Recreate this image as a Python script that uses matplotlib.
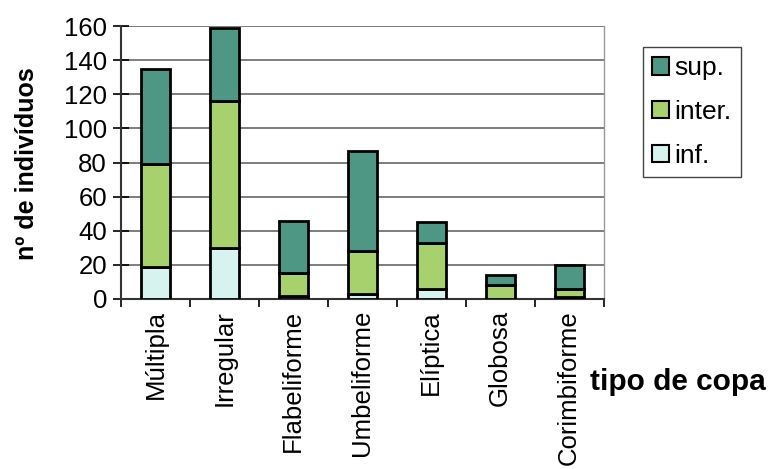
import matplotlib
matplotlib.use("Agg")
import matplotlib.pyplot as plt
from matplotlib.patches import Patch
import numpy as np

plt.rcParams['font.family'] = ['Liberation Sans', 'DejaVu Sans']

categories = ["Múltipla", "Irregular", "Flabeliforme", "Umbeliforme",
              "Elíptica", "Globosa", "Corimbiforme"]
inf_vals = [19, 30, 2, 3, 6, 0, 1]
inter_vals = [60, 86, 13, 25, 27, 8, 5]
sup_vals = [56, 43, 31, 59, 12, 6, 14]
series_names = ["sup.", "inter.", "inf."]
yticks = [0, 20, 40, 60, 80, 100, 120, 140, 160]

col_sup = "#4d9784"
col_inter = "#a6d16c"
col_inf = "#d6f3ef"

fig = plt.figure(figsize=(7.7, 4.69), dpi=100)
ax = fig.add_axes([0.157, 0.3625, 0.627, 0.582])

x = np.arange(len(categories))
w = 0.42
inf_a = np.array(inf_vals)
inter_a = np.array(inter_vals)
sup_a = np.array(sup_vals)
kw = dict(width=w, edgecolor="black", linewidth=2.0, zorder=3)
ax.bar(x, inf_a, color=col_inf, **kw)
ax.bar(x, inter_a, bottom=inf_a, color=col_inter, **kw)
ax.bar(x, sup_a, bottom=inf_a + inter_a, color=col_sup, **kw)

ax.set_xlim(-0.5, len(categories) - 0.5)
ax.set_ylim(0, 160)
ax.set_yticks(yticks)
ax.set_yticklabels([str(v) for v in yticks], fontsize=18.5)
ax.yaxis.grid(True, color="#5a5a5a", linewidth=1.1, zorder=0)
ax.tick_params(axis="y", direction="inout", length=12, width=1.2, pad=4)

# category ticks sit between the columns; labels go under each column
ax.set_xticks(np.arange(len(categories) + 1) - 0.5)
ax.set_xticklabels([])
ax.set_xticks(x, minor=True)
ax.set_xticklabels(categories, minor=True, rotation=90, fontsize=18.5,
                   va="top", ha="center")
ax.tick_params(axis="x", which="major", direction="out", length=6, width=1.2)
ax.tick_params(axis="x", which="minor", length=0, pad=8)

for s in ["left", "bottom"]:
    ax.spines[s].set_linewidth(1.5)
    ax.spines[s].set_color("#333333")
ax.spines["top"].set_visible(False)
ax.spines["right"].set_color("#999999")
ax.spines["right"].set_linewidth(1.0)

fig.text(0.035, 0.652, "nº de indivíduos", fontsize=18, fontweight="bold",
         rotation=90, ha="center", va="center")
fig.text(0.995, 0.186, "tipo de copa", fontsize=21.5, fontweight="bold",
         ha="right", va="center")

handles = [Patch(facecolor=col_sup, edgecolor="black", linewidth=1.5),
           Patch(facecolor=col_inter, edgecolor="black", linewidth=1.5),
           Patch(facecolor=col_inf, edgecolor="black", linewidth=1.5)]
leg = fig.legend(handles, series_names, loc="upper left",
                 bbox_to_anchor=(0.835, 0.9), fontsize=19,
                 handlelength=0.65, handleheight=0.65, handletextpad=0.2,
                 labelspacing=0.75, borderpad=0.35, borderaxespad=0,
                 fancybox=False, edgecolor="#444444", framealpha=1)
leg.get_frame().set_linewidth(1.0)

fig.savefig("out.png", dpi=100)
